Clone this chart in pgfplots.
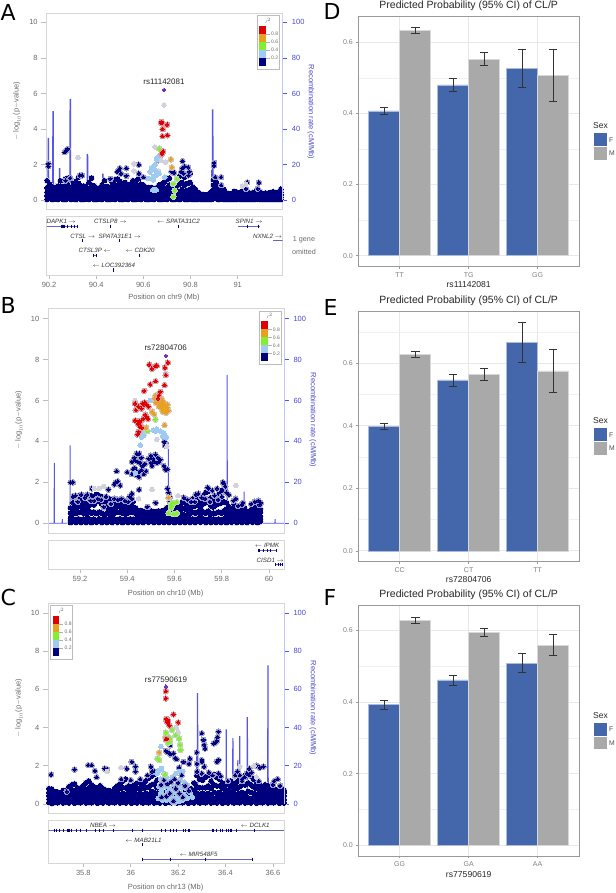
\documentclass[border=0pt]{standalone}
\usepackage{fontspec}
\usepackage{pgfplots}
\usepackage{pgfplotstable}
\pgfplotsset{compat=1.18}
\setmainfont{Liberation Sans}
\newfontfamily\letterfont{DejaVu Sans}

\definecolor{lznavy}{HTML}{00007F}
\definecolor{lzblue}{HTML}{9FCBF0}
\definecolor{lzgreen}{HTML}{80F030}
\definecolor{lzorange}{HTML}{E8A020}
\definecolor{lzred}{HTML}{E00000}
\definecolor{lzpurple}{HTML}{7030C0}
\definecolor{lzhalo}{HTML}{D2D2DC}
\definecolor{lzbox}{HTML}{D6D6D6}
\definecolor{lztxt}{HTML}{6A6A6A}
\definecolor{recomb}{HTML}{5555EE}
\definecolor{barF}{HTML}{4467AC}
\definecolor{barM}{HTML}{A9A9A9}

% position, then -log10 p of the stacked points of the dense band
\pgfplotstableread[row sep=\\]{x a b c d e\\
90.192 .05 .25 .45 .7 1.1\\ 90.203 .1 .3 .5 .65 .9\\ 90.214 .04 .2 .4 .55 .7\\ 90.226 .08 .28 .46 .6 .72\\
90.238 .05 .22 .42 .62 .8\\ 90.248 .1 .3 .5 .8 1.1\\ 90.259 .06 .2 .4 .55 .7\\ 90.270 .04 .25 .5 .8 1.2\\
90.281 .1 .3 .55 .85 1.25\\ 90.292 .05 .2 .4 .55 .7\\ 90.303 .08 .28 .48 .7 .95\\ 90.314 .04 .22 .45 .7 1.05\\
90.325 .1 .3 .55 .95 1.3\\ 90.336 .06 .25 .5 .8 1.4\\ 90.347 .04 .2 .4 .6 .8\\ 90.358 .08 .28 .45 .6 .75\\
90.369 .05 .22 .42 .62 1\\ 90.380 .1 .3 .55 .85 1.25\\ 90.391 .06 .24 .44 .62 .8\\ 90.402 .04 .2 .38 .52 .68\\
90.413 .08 .26 .44 .6 .7\\ 90.424 .05 .22 .42 .62 .85\\ 90.435 .1 .3 .5 .75 1.1\\ 90.446 .06 .24 .42 .6 .78\\
90.457 .04 .2 .4 .55 .7\\ 90.468 .08 .28 .5 .75 1\\ 90.479 .05 .25 .48 .8 1.15\\ 90.490 .1 .3 .55 .85 1.2\\
90.501 .06 .24 .46 .7 1.05\\ 90.512 .04 .2 .4 .58 .8\\ 90.523 .08 .28 .5 .7 1\\ 90.534 .05 .22 .42 .6 .78\\
90.545 .1 .3 .5 .68 .9\\ 90.556 .06 .24 .44 .7 1.1\\ 90.567 .04 .2 .4 .65 .95\\ 90.578 .08 .28 .5 .8 1.2\\
90.589 .05 .22 .42 .6 .9\\ 90.600 .1 .3 .5 .68 .85\\ 90.611 .06 .24 .44 .6 .72\\ 90.622 .04 .2 .38 .55 .7\\
90.633 .08 .26 .44 .6 .72\\ 90.644 .05 .2 .4 .55 .65\\ 90.655 .1 .28 .42 .55 .7\\ 90.666 .06 .22 .4 .6 .85\\
90.677 .04 .2 .4 .62 .9\\ 90.688 .08 .28 .46 .7 1\\ 90.699 .05 .22 .42 .7 1.15\\ 90.710 .1 .3 .55 .85 1.25\\
90.721 .06 .24 .44 .6 .8\\ 90.732 .04 .2 .4 .5 .65\\ 90.743 .08 .26 .5 .8 1.2\\ 90.754 .05 .25 .5 .9 1.35\\
90.765 .1 .3 .6 1 1.45\\ 90.776 .06 .24 .5 .85 1.3\\ 90.787 .04 .25 .55 .95 1.4\\ 90.798 .08 .3 .6 1 1.5\\
90.809 .05 .22 .42 .6 .75\\ 90.820 .06 .2 .36 .5 .62\\ 90.831 .04 .16 .28 .38 .45\\ 90.842 .06 .14 .22 .3 .36\\
90.853 .04 .12 .2 .27 .32\\ 90.864 .05 .13 .2 .26 .3\\ 90.875 .04 .12 .2 .28 .34\\ 90.886 .06 .16 .26 .36 .45\\
90.897 .08 .3 .55 .85 1.15\\ 90.908 .1 .35 .6 .85 1.05\\ 90.919 .05 .2 .42 .62 .8\\ 90.930 .08 .25 .45 .65 .85\\
90.941 .05 .18 .32 .46 .6\\ 90.952 .04 .14 .24 .34 .42\\ 90.963 .06 .14 .22 .3 .36\\ 90.974 .04 .13 .22 .3 .38\\
90.985 .05 .16 .28 .38 .5\\ 90.996 .04 .14 .25 .35 .45\\ 91.007 .06 .16 .26 .34 .42\\ 91.018 .04 .14 .24 .36 .5\\
91.029 .05 .16 .28 .4 .55\\ 91.040 .06 .2 .32 .42 .5\\ 91.051 .04 .14 .24 .32 .4\\ 91.062 .05 .15 .25 .35 .42\\
91.073 .04 .14 .24 .34 .45\\ 91.084 .06 .18 .3 .42 .52\\ 91.095 .05 .16 .26 .36 .48\\ 91.106 .04 .14 .22 .3 .38\\
91.117 .05 .14 .23 .32 .4\\ 91.128 .04 .13 .22 .3 .36\\ 91.139 .05 .14 .24 .34 .44\\ 91.150 .04 .15 .26 .36 .48\\
91.161 .05 .14 .24 .32 .4\\ 91.172 .04 .15 .26 .36 .46\\ 91.183 .06 .18 .3 .45 .62\\
}\massA
\pgfplotstableread[row sep=\\]{x y\\
90.197 2.05\\ 90.197 1.9\\ 90.266 2.7\\ 90.272 2.78\\ 90.278 2.88\\ 90.274 2.82\\ 90.528 1.8\\ 90.528 1.37\\ 90.581 2\\ 90.581 1.5\\
90.5 1.8\\ 90.495 1.7\\ 90.49 1.6\\ 90.505 1.5\\ 90.6 1.3\\ 90.665 2.25\\ 90.67 2.4\\ 90.72 1.6\\ 90.73 1.55\\ 90.766 2.2\\ 90.765 1.8\\
90.76 1.6\\ 90.775 1.9\\ 90.79 1.85\\ 90.795 1.6\\ 90.792 1.4\\ 90.77 1.5\\ 90.9 2.1\\ 90.9 1.95\\ 90.905 1.3\\ 90.93 1.3\\ 90.93 .85\\
91.04 1\\ 91.035 .65\\ 91.09 1\\ 91.085 .65\\ 90.46 1.2\\ 90.33 1.4\\ 90.34 1.4\\ 90.27 1.1\\ 90.29 1.25\\
}\navyA
\pgfplotstableread[row sep=\\]{x y\\
90.323 2.4\\ 90.688 5.35\\ 90.649 3\\ 90.56 2.05\\ 90.56 1.65\\ 90.665 1.65\\ 90.675 2.25\\ 90.694 2.15\\ 91.02 .8\\ 91.035 .9\\
}\grayA
\pgfplotstableread[row sep=\\]{x y\\
90.656 2.3\\ 90.663 2.45\\ 90.643 1.8\\ 90.65 1.7\\ 90.628 1.6\\ 90.667 1.5\\ 90.643 1.33\\ 90.621 1.23\\ 90.642 1.14\\ 90.656 1.42\\ 90.635 1.8\\ 90.65 2\\
90.64 .58\\ 90.645 .6\\ 90.65 .55\\ 90.655 .58\\ 90.691 1.3\\ 90.636 1.2\\
}\blueA
\pgfplotstableread[row sep=\\]{x y\\
90.667 2.9\\ 90.727 .92\\ 90.742 1.2\\ 90.733 .55\\ 90.727 .2\\
}\greenA
\pgfplotstableread[row sep=\\]{x y\\
90.684 4\\ 90.717 2.3\\ 90.721 1.85\\
}\orangeA
\pgfplotstableread[row sep=\\]{x y\\
90.677 4.4\\ 90.675 4.36\\ 90.679 4.33\\ 90.701 4.25\\ 90.681 3.6\\ 90.702 3.65\\ 90.684 2.75\\ 90.681 2.7\\ 90.678 2.6\\ 90.681 4\\
}\redA

\pgfplotstableread[row sep=\\]{x a b c d e\\
59.160 .04 .14 .25 .5 .75\\ 59.171 .08 .2 .5 .75 1\\ 59.182 .05 .16 .48 .7 .9\\ 59.193 .1 .22 .52 .9 1.35\\
59.204 .04 .15 .55 .8 1.2\\ 59.215 .08 .2 .5 .75 1\\ 59.226 .05 .15 .45 .7 .95\\ 59.237 .1 .22 .6 .85 1.2\\
59.248 .04 .16 .5 1 1.35\\ 59.259 .08 .2 .55 .9 1.3\\ 59.270 .05 .14 .48 1.05 1.4\\ 59.281 .1 .22 .55 1.1 1.35\\
59.292 .04 .15 .5 .95 1.3\\ 59.303 .08 .2 .4 1 1.25\\ 59.314 .05 .16 .5 .8 1.1\\ 59.325 .1 .22 .45 .7 1.2\\
59.336 .04 .14 .3 .55 .8\\ 59.347 .08 .2 .5 .75 .95\\ 59.358 .05 .16 .55 .8 1\\ 59.369 .1 .22 .55 .85 1.05\\
59.380 .04 .15 .5 .7 .9\\ 59.391 .08 .2 .45 .7 .95\\ 59.402 .05 .16 .5 .75 .9\\ 59.413 .1 .22 .55 .7 .85\\
59.424 .04 .15 .55 .8 1.05\\ 59.435 .08 .2 .5 .65 .75\\ 59.446 .05 .16 .3 .5 .62\\ 59.457 .1 .22 .38 .55 .62\\
59.468 .04 .15 .3 .48 .58\\ 59.479 .08 .2 .34 .5 .6\\ 59.490 .05 .14 .28 .45 .55\\ 59.501 .1 .2 .35 .5 .6\\
59.512 .04 .15 .3 .45 .55\\ 59.523 .08 .2 .34 .48 .58\\ 59.534 .05 .16 .3 .48 .6\\ 59.545 .1 .22 .36 .5 .6\\
59.556 .04 .15 .32 .5 .62\\ 59.567 .08 .2 .4 .6 .75\\ 59.578 .05 .16 .36 .55 .8\\ 59.589 .1 .22 .45 .6 .7\\
59.600 .04 .15 .32 .6 .85\\ 59.611 .08 .2 .4 .6 .8\\ 59.622 .05 .15 .35 .6 .9\\ 59.633 .1 .22 .45 .75 1.05\\
59.644 .04 .15 .4 .7 1\\ 59.655 .08 .2 .42 .65 .9\\ 59.666 .05 .16 .45 .7 .95\\ 59.677 .1 .22 .55 .85 1.2\\
59.688 .04 .15 .5 .85 1.3\\ 59.699 .08 .22 .55 .9 1.25\\ 59.710 .05 .15 .45 .75 1.05\\ 59.721 .1 .22 .55 .95 1.35\\
59.732 .04 .16 .5 1 1.5\\ 59.743 .08 .2 .6 1.05 1.55\\ 59.754 .05 .15 .45 .85 1.25\\ 59.765 .1 .22 .5 .8 1.1\\
59.776 .04 .15 .5 .9 1.3\\ 59.787 .08 .2 .55 .95 1.4\\ 59.798 .05 .16 .5 1 1.6\\ 59.809 .1 .22 .6 1.05 1.7\\
59.820 .04 .15 .45 .7 1\\ 59.831 .08 .2 .4 .6 .8\\ 59.842 .05 .16 .35 .55 .7\\ 59.853 .1 .22 .4 .65 .9\\
59.864 .04 .15 .35 .6 .8\\ 59.875 .08 .18 .3 .45 .55\\ 59.886 .05 .15 .3 .5 .7\\ 59.897 .08 .2 .4 .6 .75\\
59.908 .04 .14 .28 .42 .55\\ 59.919 .08 .2 .35 .5 .6\\ 59.930 .05 .15 .4 .6 .75\\ 59.941 .1 .22 .45 .65 .85\\
59.952 .04 .16 .4 .65 .9\\ 59.963 .08 .2 .35 .55 .7\\
}\massB
\pgfplotstableread[row sep=\\]{x y\\
59.557 3.98\\ 59.56 3.8\\ 59.43 3.2\\ 59.44 3.4\\ 59.45 3.4\\ 59.46 3.2\\ 59.42 3\\ 59.435 3.05\\ 59.445 3\\ 59.455 2.95\\ 59.465 2.8\\ 59.43 2.7\\ 59.44 2.55\\ 59.45 2.5\\
59.46 2.6\\ 59.47 2.4\\ 59.48 2.55\\ 59.475 2.9\\ 59.49 3.15\\ 59.5 3.3\\ 59.51 3.15\\ 59.52 3.35\\ 59.53 3.2\\ 59.515 3\\ 59.525 2.95\\ 59.535 3\\ 59.54 3.1\\ 59.505 2.8\\
59.5 2.95\\ 59.555 2.8\\ 59.56 2.65\\ 59.565 2.6\\ 59.57 2.65\\ 59.45 2.25\\ 59.44 2.35\\ 59.425 2.65\\ 59.42 2.4\\ 59.4 2.5\\ 59.355 2.55\\ 59.36 2.05\\ 59.35 2\\ 59.345 1.9\\
59.37 1.85\\ 59.16 2\\ 59.17 2\\ 59.25 1.7\\ 59.32 1.65\\ 59.42 1.45\\ 59.41 1.3\\ 59.45 1.65\\ 59.485 .8\\ 59.52 1\\ 59.57 1.7\\ 59.575 1.5\\ 59.58 1.3\\ 59.58 1.05\\
59.69 1.4\\ 59.74 1.75\\ 59.745 1.7\\ 59.76 1.6\\ 59.78 1.7\\ 59.805 2\\ 59.81 1.95\\ 59.815 1.8\\ 59.82 1.5\\ 59.83 1.4\\ 59.86 1.2\\ 59.89 1\\ 59.955 1.1\\ 59.965 1\\
59.17 1.3\\ 59.18 1.35\\ 59.19 1.05\\ 59.205 1.4\\ 59.22 1.25\\ 59.23 1.4\\ 59.245 1.1\\ 59.26 1.1\\ 59.275 1.2\\ 59.29 1.15\\ 59.3 .8\\ 59.31 1.3\\ 59.33 .95\\ 59.345 1.2\\ 59.36 1.15\\
59.375 1.2\\ 59.39 1.1\\ 59.405 1.05\\ 59.42 1.2\\ 59.64 1.25\\ 59.655 1.15\\ 59.67 1.05\\ 59.685 1.05\\ 59.7 1.45\\ 59.715 1.25\\ 59.73 1.2\\ 59.75 1.05\\ 59.77 1.35\\ 59.785 1.15\\
59.8 1.3\\ 59.85 1.1\\ 59.87 .85\\ 59.885 .9\\ 59.925 .95\\ 59.94 1.05\\ 59.96 .9\\
}\navyB
\pgfplotstableread[row sep=\\]{x y\\
59.433 6\\ 59.525 4.1\\ 59.565 4.18\\ 59.567 3.75\\ 59.505 1.65\\ 59.86 1.85\\ 59.3 1.8\\ 59.26 1.7\\ 59.448 1.2\\ 59.563 7.35\\ 59.28 1.7\\ 59.615 1.35\\
}\grayB
\pgfplotstableread[row sep=\\]{x y\\
59.45 4.5\\ 59.455 4.35\\ 59.46 4.2\\ 59.465 4.4\\ 59.47 4.3\\ 59.455 3.82\\ 59.51 4.55\\ 59.525 4.6\\ 59.54 4.5\\ 59.555 4.4\\ 59.55 4.25\\ 59.565 4.2\\ 59.52 4.5\\ 59.497 6\\ 59.435 2.45\\
}\blueB
\pgfplotstableread[row sep=\\]{x y\\
59.519 5.07\\ 59.485 4.5\\ 59.585 .9\\ 59.59 1\\ 59.585 .75\\ 59.6 1\\ 59.61 1.03\\ 59.595 .45\\ 59.605 .45\\ 59.61 .5\\ 59.575 .5\\ 59.59 .85\\
}\greenB
\pgfplotstableread[row sep=\\]{x y\\
59.52 6.25\\ 59.53 6.3\\ 59.515 6.1\\ 59.525 6.05\\ 59.535 6.15\\ 59.545 6.1\\ 59.52 5.9\\ 59.53 5.85\\ 59.54 5.95\\ 59.55 6\\ 59.555 5.9\\ 59.56 5.75\\ 59.535 5.7\\ 59.545 5.8\\
59.55 5.65\\ 59.56 5.55\\ 59.57 5.65\\ 59.575 5.5\\ 59.565 5.4\\ 59.55 5.45\\ 59.57 5.8\\ 59.545 5.6\\ 59.527 5.98\\ 59.505 5.45\\ 59.514 5.33\\ 59.558 4.8\\ 59.47 4.67\\ 59.48 4.67\\ 59.575 1.25\\
}\orangeB
\pgfplotstableread[row sep=\\]{x y\\
59.572 7.85\\ 59.493 7.75\\ 59.504 7.55\\ 59.518 7.67\\ 59.525 7.7\\ 59.559 7.6\\ 59.563 7.24\\ 59.52 6.94\\ 59.497 6.78\\ 59.558 6.75\\ 59.472 6.47\\ 59.54 6.42\\ 59.535 6.26\\ 59.53 6.1\\
59.433 5.85\\ 59.447 5.7\\ 59.436 5.53\\ 59.465 5.85\\ 59.475 5.9\\ 59.482 5.8\\ 59.47 5.8\\ 59.46 5.6\\ 59.49 5.7\\ 59.433 5.02\\ 59.451 5\\ 59.468 5.1\\ 59.482 5.2\\ 59.476 5.3\\ 59.487 5.1\\
59.455 4.95\\ 59.461 4.67\\ 59.455 4.72\\ 59.448 4.47\\ 59.443 4.34\\ 59.445 4.85\\
}\redB

\pgfplotstableread[row sep=\\]{x a b c d e\\
35.655 .08 .25 .45 .6 .8\\ 35.667 .04 .2 .4 .62 .78\\ 35.679 .1 .3 .48 .55 .65\\ 35.691 .06 .22 .38 .5 .62\\
35.703 .12 .3 .42 .5 .58\\ 35.715 .05 .2 .35 .52 .7\\ 35.727 .1 .28 .46 .58 .72\\ 35.739 .06 .22 .4 .62 .9\\
35.751 .12 .3 .5 .7 1\\ 35.763 .05 .2 .45 .7 1.05\\ 35.775 .1 .28 .46 .66 .85\\ 35.787 .06 .22 .42 .62 .8\\
35.799 .12 .3 .5 .72 .95\\ 35.811 .05 .25 .48 .75 1.1\\ 35.823 .1 .3 .55 .85 1.2\\ 35.835 .06 .24 .45 .7 1\\
35.847 .12 .3 .5 .7 .88\\ 35.859 .05 .22 .42 .65 .82\\ 35.871 .1 .28 .5 .75 .95\\ 35.883 .06 .24 .46 .66 .8\\
35.895 .12 .3 .48 .62 .72\\ 35.907 .05 .2 .4 .58 .7\\ 35.919 .1 .28 .42 .55 .65\\ 35.931 .06 .22 .42 .6 .8\\
35.943 .12 .3 .5 .7 .95\\ 35.955 .05 .25 .5 .8 1.05\\ 35.967 .1 .3 .55 .85 1.2\\ 35.979 .06 .25 .5 .85 1.3\\
35.991 .12 .3 .5 .7 .95\\ 36.003 .05 .22 .42 .66 .9\\ 36.015 .1 .28 .5 .75 1\\ 36.027 .06 .24 .48 .8 1.1\\
36.039 .12 .3 .55 .85 1.15\\ 36.051 .05 .25 .5 .8 1.05\\ 36.063 .1 .3 .55 .85 1.2\\ 36.075 .06 .25 .5 .9 1.35\\
36.087 .12 .35 .65 1 1.45\\ 36.099 .05 .3 .6 1.05 1.55\\ 36.111 .1 .3 .55 .85 1.25\\ 36.123 .06 .2 .3 .4 .45\\
36.135 .12 .2 .3 .42 .6\\ 36.147 .05 .14 .2 .32 .5\\ 36.159 .1 .2 .3 .4 .7\\ 36.171 .06 .14 .24 .34 .5\\
36.183 .12 .2 .3 .45 .8\\ 36.195 .05 .16 .28 .4 .6\\ 36.207 .1 .22 .32 .42 .55\\ 36.219 .06 .14 .24 .36 .9\\
36.231 .12 .2 .34 .5 .7\\ 36.243 .05 .14 .24 .4 .6\\ 36.255 .1 .22 .35 .55 .8\\ 36.267 .06 .25 .45 .7 1.1\\
36.279 .12 .3 .55 .9 1.5\\ 36.291 .05 .25 .5 .85 1.3\\ 36.303 .1 .3 .55 .85 1.25\\ 36.315 .06 .24 .5 .85 1.4\\
36.327 .12 .3 .55 .95 1.5\\ 36.339 .05 .25 .5 .8 1.2\\ 36.351 .1 .3 .6 1 1.55\\ 36.363 .06 .28 .55 .95 1.4\\
36.375 .12 .32 .6 .95 1.3\\ 36.387 .05 .25 .5 .8 1.1\\ 36.399 .1 .3 .55 .8 1\\ 36.411 .06 .24 .45 .7 1.05\\
36.423 .12 .3 .5 .85 1.2\\ 36.435 .05 .22 .45 .7 1\\ 36.447 .1 .28 .5 .8 1.15\\ 36.459 .06 .25 .55 .9 1.3\\
36.471 .12 .3 .6 1 1.4\\ 36.483 .05 .28 .55 1 1.5\\ 36.495 .1 .32 .65 1.1 1.55\\ 36.507 .06 .28 .6 1 1.45\\
36.519 .12 .3 .55 .9 1.3\\ 36.531 .05 .25 .5 .8 1.1\\ 36.543 .1 .3 .5 .75 1\\ 36.555 .06 .22 .42 .66 .9\\
36.567 .12 .3 .5 .75 1\\ 36.579 .05 .24 .45 .7 .95\\ 36.591 .1 .28 .48 .66 .85\\ 36.603 .06 .22 .42 .6 .78\\
36.615 .12 .3 .48 .62 .72\\ 36.627 .05 .2 .4 .58 .78\\ 36.639 .1 .28 .46 .62 .8\\ 36.647 .06 .22 .42 .58 .72\\
}\massC
\pgfplotstableread[row sep=\\]{x y\\
36.166 3.07\\ 36.148 2.78\\ 36.155 2.72\\ 36.166 2.6\\ 36.18 2.65\\ 36.187 2.4\\ 36.194 2.35\\ 36.204 1.9\\ 36.223 2.2\\ 36.25 2.38\\ 36.246 2.1\\ 36.279 2.1\\ 36.279 2.7\\
36.3 3.7\\ 36.307 3.35\\ 36.31 3.1\\ 36.314 2.9\\ 36.3 2.2\\ 36.31 1.95\\ 36.3 2.3\\ 36.37 3.78\\ 36.366 3.5\\ 36.363 3.3\\ 36.356 3.2\\ 36.35 3.17\\ 36.37 2.3\\ 36.363 2.2\\ 36.37 1.6\\
35.664 1.54\\ 35.763 1.8\\ 35.82 2.03\\ 35.835 2.03\\ 35.849 1.73\\ 35.856 1.4\\ 35.89 1.85\\ 35.9 1.82\\ 35.983 1.85\\ 36.02 1.95\\ 36.004 2.2\\ 36.02 1.7\\ 36.085 1.95\\ 36.1 1.7\\ 35.73 .65\\
36.53 2\\ 36.545 1.9\\ 36.56 1.95\\ 36.5 1.85\\ 36.49 1.6\\ 36.5 1.5\\ 36.48 1.4\\ 36.47 1.3\\ 36.47 1.2\\ 36.62 1.3\\ 36.605 1.2\\ 36.45 1.7\\ 36.44 1.5\\
35.96 1.3\\ 36 1.25\\ 36.04 1.3\\ 36.07 1.5\\ 36.09 1.7\\ 36.28 1.7\\ 36.3 1.6\\ 36.33 1.65\\ 36.345 1.5\\ 36.38 1.45\\ 36.41 1.2\\ 36.46 1.5\\ 36.51 1.65\\ 36.54 1.2\\ 36.6 1\\ 36.63 .95\\
}\navyC
\pgfplotstableread[row sep=\\]{x y\\
36.192 4\\ 36.2 3.75\\ 35.958 1.9\\ 35.9 1.7\\ 36.46 1.95\\ 36.52 2\\ 36.53 1.4\\ 36.148 6\\
}\grayC
\pgfplotstableread[row sep=\\]{x y\\
36.127 3\\ 36.112 1.6\\ 36.12 1.75\\ 36.13 1.85\\ 36.14 1.6\\ 36.125 1.3\\ 36.135 1.1\\ 36.15 1.4\\ 36.12 .9\\ 36.13 .7\\ 36.145 .9\\ 36.16 1.15\\ 36.165 .8\\ 36.175 1.4\\ 36.18 1\\
36.19 1.6\\ 36.195 1.2\\ 36.205 1.7\\ 36.21 1.3\\ 36.22 1.7\\ 36.225 1.15\\ 36.215 .85\\ 36.2 .9\\ 36.185 .6\\ 36.17 .5\\ 36.155 .6\\ 36.14 .45\\ 36.125 .5\\ 36.115 .3\\ 36.135 .2\\
36.15 .2\\ 36.165 .25\\ 36.18 .3\\ 36.195 .35\\ 36.21 .4\\ 36.225 .5\\ 36.235 .8\\ 36.24 1\\ 36.25 .6\\ 36.26 .35\\ 36.205 .15\\ 36.22 .2\\ 36.175 .1\\ 36.19 .1\\ 36.24 .3\\
}\blueC
% navy points that lie over the light blue cluster
\pgfplotstableread[row sep=\\]{x y\\
36.128 1\\ 36.14 1.25\\ 36.155 1.05\\ 36.17 1.15\\ 36.165 .55\\ 36.185 1.3\\ 36.2 1.1\\ 36.215 1.5\\ 36.23 .95\\ 36.19 .8\\ 36.205 .55\\ 36.245 .7\\ 36.15 .4\\ 36.13 .35\\ 36.22 .35\\ 36.18 .15\\
}\navyCtop
\pgfplotstableread[row sep=\\]{x y\\
36.175 3.88\\ 36.148 3.74\\ 36.16 3.5\\ 36.166 3.4\\ 36.155 3.3\\ 36.19 3.6\\ 36.204 3.43\\ 36.208 3.1\\ 36.21 2.83\\ 36.166 3.25\\ 36.145 3.5\\ 36.156 3.2\\ 36.12 2.64\\ 36.112 2.38\\ 36.145 1.54\\ 36.12 2.3\\
}\greenC
\pgfplotstableread[row sep=\\]{x y\\
36.12 2.7\\
}\orangeC
\pgfplotstableread[row sep=\\]{x y\\
36.148 5.9\\ 36.148 5.52\\ 36.18 4.69\\ 36.2 4.27\\ 36.149 4.45\\ 36.155 4.4\\ 36.158 4.3\\ 36.152 4.3\\ 36.156 4.25\\ 36.163 4.1\\ 36.152 3.4\\ 36.148 3.39\\
}\redC

% marks are filled and stroked, so the stroke takes the fill colour
\newcommand{\halo}[2]{\addplot[only marks,mark=*,mark size=2.9pt,mark options={draw=lzhalo,fill=lzhalo,line width=0pt}] table[y=#2] {#1};}
\newcommand{\core}[2]{\addplot[only marks,mark=*,mark size=2.3pt,mark options={draw=lznavy,fill=lznavy,line width=0pt}] table[y=#2] {#1};}
\newcommand{\mass}[1]{\halo{#1}{a}\halo{#1}{b}\halo{#1}{c}\halo{#1}{d}\halo{#1}{e}%
  \core{#1}{a}\core{#1}{b}\core{#1}{c}\core{#1}{d}\core{#1}{e}}
\newcommand{\pts}[2]{%
  \addplot[only marks,mark=*,mark size=2.8pt,mark options={draw=#1!25!lzhalo,fill=#1!25!lzhalo,line width=0pt}] table {#2};
  \addplot[only marks,mark=*,mark size=1.7pt,mark options={draw=#1,fill=#1,line width=0pt}] table {#2};}
\newcommand{\bluepts}[1]{%
  \addplot[only marks,mark=*,mark size=2.3pt,mark options={draw=lzblue,fill=lzblue,line width=0pt}] table {#1};}
\newcommand{\graypts}[1]{\addplot[only marks,mark=*,mark size=2.3pt,mark options={draw=lzhalo,fill=lzhalo,line width=0pt}] table {#1};}

\pgfplotsset{
  lz/.style={scale only axis,width=236pt,clip=true,
    /pgf/number format/assume math mode=true,
    tick label style={font=\fontsize{7.5}{9}\selectfont,text=lztxt},
    tick align=outside},
  lzright/.style={lz,axis x line=none,axis y line*=right,axis line style={draw=none},
    ymin=-4.9,ymax=105,ytick={0,20,40,60,80,100},
    yticklabels={0,20,40,60,80,100},
    major tick length=4.7pt,
    ytick style={recomb,line width=.6pt},
    tick label style={font=\fontsize{7.5}{9}\selectfont,text=recomb!85!black},
    yticklabel style={xshift=1pt}},
  lzmain/.style={lz,axis line style={lzbox,line width=.9pt},
    ymin=-.49,ymax=10.5,ytick={0,2,4,6,8,10},yticklabels={0,2,4,6,8,10},
    xtick=\empty,ytick pos=left,major tick length=5.5pt,
    ytick style={lzbox!70!gray,line width=.6pt}},
  lzgene/.style={lz,axis line style={lzbox,line width=.9pt},y dir=reverse,ytick=\empty,
    xtick pos=bottom,major tick length=3.5pt,
    xtick style={lzbox!70!gray,line width=.6pt}},
  genel/.style={no marks,color=lznavy!60,line width=.5pt},
  exon/.style={only marks,mark=|,mark size=1.6pt,lznavy,mark options={line width=.9pt}},
  gg/.style={scale only axis,width=220.7pt,xmin=.4,xmax=3.6,xtick={1,2,3},
    /pgf/number format/assume math mode=true,
    axis line style={gray!80,line width=.7pt},
    tick label style={font=\fontsize{7}{8}\selectfont,text=gray},
    major tick length=2pt,tick align=outside,tick style={gray!80,line width=.5pt},
    xtick pos=bottom,ytick pos=left,
    ymajorgrids,yminorgrids,xmajorgrids,
    major grid style={black!9,line width=.8pt},minor grid style={black!6,line width=.45pt},
    minor tick length=0pt},
  barF/.style={ybar,bar width=31pt,bar shift=0pt,fill=barF,draw=barF!45!white,line width=.5pt,
    error bars/.cd,y dir=both,y explicit,
    error bar style={black!80,line width=.65pt,solid},
    error mark options={black!80,rotate=90,mark size=4.3pt,line width=.65pt}},
  barM/.style={ybar,bar width=31pt,bar shift=0pt,fill=barM,draw=barM!45!white,line width=.5pt,
    error bars/.cd,y dir=both,y explicit,
    error bar style={black!80,line width=.65pt,solid},
    error mark options={black!80,rotate=90,mark size=4.3pt,line width=.65pt}},
}

\newcommand{\rsqleg}[2]{% left and top of the r2 key
  \draw[lzbox!70!gray,fill=white,line width=.7pt] (#1,-#2) rectangle ++(22,-53.4);
  \node[font=\fontsize{4.5}{5}\selectfont\itshape,text=lztxt] at (#1+11,-#2-5.2) {r$^{2}$};
  \foreach \c [count=\i from 0] in {lzred,lzorange,lzgreen,lzblue,lznavy}
    \fill[\c] (#1+2,-#2-10.3-8*\i) rectangle ++(6.7,-8);
  \foreach \l [count=\i from 1] in {0.8,0.6,0.4,0.2}{
    \draw[gray!60,line width=.3pt] (#1+8.7,-#2-10.3-8*\i) -- ++(4,0);
    \node[font=\fontsize{5}{6}\selectfont,text=lztxt] at (#1+17.4,-#2-10.3-8*\i) {\l};}
}
\newcommand{\sexleg}[1]{%
  \node[anchor=west,font=\fontsize{8.5}{10}\selectfont,text=black!85,inner sep=0pt] at (593,-#1+7.5) {Sex};
  \fill[barF] (593.7,-#1) rectangle ++(13,-12.8);
  \fill[barM] (593.7,-#1-13.8) rectangle ++(13,-12.8);
  \node[anchor=west,font=\fontsize{6.8}{8}\selectfont,text=black!70,inner sep=0pt] at (609,-#1-6.4) {F};
  \node[anchor=west,font=\fontsize{6.8}{8}\selectfont,text=black!70,inner sep=0pt] at (609,-#1-20.2) {M};
}
\newcommand{\gl}[1]{\fontsize{6.2}{7}\selectfont\itshape #1}

\begin{document}
\begin{tikzpicture}[x=1pt,y=1pt]
\path[use as bounding box] (0,0) rectangle (615,-893);

% ---- A
\begin{axis}[lzright,at={(46.7pt,-13.3pt)},anchor=north west,height=195.7pt,xmin=90.19,xmax=91.191]
\addplot[recomb,line width=1.5pt,no marks] coordinates {(90.19,0)(90.196,0)(90.197,35)(90.198,0)(90.216,0)(90.217,50)(90.218,0)(90.244,0)(90.245,18)(90.246,0)(90.289,0)(90.29,57)(90.291,0)(90.362,0)(90.363,26)(90.364,0)(90.427,0)(90.428,15)(90.429,0)(90.888,0)(90.891,17)(90.893,0)(90.894,51)(90.895,0)(91.077,0)(91.078,7)(91.079,0)(91.191,0)};
\end{axis}
\begin{axis}[lzmain,at={(46.7pt,-13.3pt)},anchor=north west,height=195.7pt,xmin=90.19,xmax=91.191]
\mass{\massA}
\pts{lznavy}{\navyA}
\graypts{\grayA}
\bluepts{\blueA}
\pts{lzgreen}{\greenA}
\pts{lzorange}{\orangeA}
\pts{lzred}{\redA}
\addplot[only marks,mark=*,mark size=1.8pt,mark options={draw=lzpurple,fill=lzpurple,line width=0pt}] coordinates {(90.688,6.2)};
\end{axis}
\begin{axis}[lzgene,at={(46.7pt,-216pt)},anchor=north west,height=59pt,xmin=90.19,xmax=91.191,ymin=0,ymax=59,
  xtick={90.2,90.4,90.6,90.8,91},xticklabels={90.2,90.4,90.6,90.8,91}]
\addplot[genel] coordinates {(90.19,10.3)(90.323,10.3)};
\addplot[genel] coordinates {(91.001,10.3)(91.095,10.3)};
\addplot[genel] coordinates {(91.151,24.7)(91.191,24.7)};
\addplot[genel] coordinates {(90.387,39.3)(90.401,39.3)};
\addplot[exon] coordinates {(90.252,10.3)(90.258,10.3)(90.263,10.3)(90.267,10.3)(90.28,10.3)(90.295,10.3)(90.309,10.3)(90.319,10.3)(90.46,10.3)(90.748,10.3)(91.041,10.3)(91.087,10.3)(90.343,24.7)(90.5,24.7)(90.387,39.3)(90.401,39.3)(90.585,39.3)(90.472,54)};
\node[text=black!80,font=\gl{}] at (axis cs:90.252,5.7) {DAPK1 $\rightarrow$};
\node[text=black!80,font=\gl{}] at (axis cs:90.46,5.7) {CTSLP8 $\rightarrow$};
\node[text=black!80,font=\gl{}] at (axis cs:90.749,5.7) {$\leftarrow$ SPATA31C2};
\node[text=black!80,font=\gl{}] at (axis cs:91.049,5.7) {SPIN1 $\rightarrow$};
\node[text=black!80,font=\gl{}] at (axis cs:90.343,20) {CTSL $\rightarrow$};
\node[text=black!80,font=\gl{}] at (axis cs:90.5,20) {SPATA31E1 $\rightarrow$};
\node[text=black!80,font=\gl{}] at (axis cs:91.127,20) {NXNL2 $\rightarrow$};
\node[text=black!80,font=\gl{}] at (axis cs:90.394,34.7) {CTSL3P $\leftarrow$};
\node[text=black!80,font=\gl{}] at (axis cs:90.586,34.7) {$\leftarrow$ CDK20};
\node[text=black!80,font=\gl{}] at (axis cs:90.475,49.3) {$\leftarrow$ LOC392364};
\end{axis}
\rsqleg{257.3}{15.7}
\draw[recomb!35,line width=1pt] (282.7,-22.3) -- (282.7,-200.3);
\node[font=\fontsize{8}{9}\selectfont,text=black!85] at (164,-82) {rs11142081};
\node[font=\fontsize{7.5}{9}\selectfont,text=lztxt] at (164,-298) {Position on chr9 (Mb)};
\node[rotate=90,font=\fontsize{7.5}{9}\selectfont,text=lztxt] at (17,-111) {$-\log_{10}$(p$-$value)};
\node[rotate=-90,font=\fontsize{7.5}{9}\selectfont,text=recomb!85!black] at (310.7,-112) {Recombination rate (cM/Mb)};
\node[font=\fontsize{7.2}{9}\selectfont,text=lztxt] at (304,-240) {1 gene};
\node[font=\fontsize{7.2}{9}\selectfont,text=lztxt] at (304,-251.5) {omitted};

% ---- B
\begin{axis}[lzright,at={(48.3pt,-308.3pt)},anchor=north west,height=225pt,xmin=59.0656,xmax=60.065]
\addplot[recomb,line width=.9pt,no marks] coordinates {(59.0656,0)(59.09,0)(59.091,29.5)(59.092,0)(59.124,0)(59.125,2)(59.126,0)(59.154,0)(59.156,8)(59.157,0)(59.158,38)(59.159,0)(59.267,0)(59.268,5)(59.269,0)(59.424,0)(59.425,8.5)(59.426,0)(59.573,0)(59.574,39.5)(59.575,0)(59.822,0)(59.823,72.5)(59.824,0)(59.842,0)(59.843,11.5)(59.844,0)(59.894,0)(59.895,15.5)(59.896,0)(60.025,0)(60.026,2)(60.027,0)(60.065,0)};
\end{axis}
\begin{axis}[lzmain,at={(48.3pt,-308.3pt)},anchor=north west,height=225pt,xmin=59.0656,xmax=60.065]
\mass{\massB}
\pts{lznavy}{\navyB}
\graypts{\grayB}
\bluepts{\blueB}
\pts{lzgreen}{\greenB}
\pts{lzorange}{\orangeB}
\pts{lzred}{\redB}
\addplot[only marks,mark=*,mark size=1.8pt,mark options={draw=lzpurple,fill=lzpurple,line width=0pt}] coordinates {(59.564,8.18)};
\end{axis}
\begin{axis}[lzgene,at={(48.3pt,-540.7pt)},anchor=north west,height=28.3pt,xmin=59.0656,xmax=60.065,ymin=0,ymax=28.3,
  xtick={59.2,59.4,59.6,59.8,60},xticklabels={59.2,59.4,59.6,59.8,60}]
\addplot[genel] coordinates {(59.954,9.7)(60.03,9.7)};
\addplot[genel] coordinates {(60.027,24)(60.056,24)};
\addplot[exon] coordinates {(59.955,9.7)(59.958,9.7)(59.978,9.7)(59.992,9.7)(60.006,9.7)(60.03,9.7)(60.027,24)(60.042,24)(60.05,24)(60.056,24)};
\node[text=black!80,font=\gl{}] at (axis cs:59.992,5) {$\leftarrow$ IPMK};
\node[text=black!80,font=\gl{}] at (axis cs:60.006,19.3) {CISD1 $\rightarrow$};
\end{axis}
\rsqleg{259}{311}
\draw[recomb!35,line width=1pt] (284,-318.3) -- (284,-523.3);
\node[font=\fontsize{8}{9}\selectfont,text=black!85] at (165.7,-347.7) {rs72804706};
\node[font=\fontsize{7.5}{9}\selectfont,text=lztxt] at (165.7,-593.3) {Position on chr10 (Mb)};
\node[rotate=90,font=\fontsize{7.5}{9}\selectfont,text=lztxt] at (19,-420) {$-\log_{10}$(p$-$value)};
\node[rotate=-90,font=\fontsize{7.5}{9}\selectfont,text=recomb!85!black] at (312.7,-420) {Recombination rate (cM/Mb)};

% ---- C
\begin{axis}[lzright,at={(48.3pt,-603.3pt)},anchor=north west,height=210pt,xmin=35.652,xmax=36.648]
\addplot[recomb,line width=1.2pt,no marks] coordinates {(35.652,0)(36.278,0)(36.279,27)(36.28,0)(36.281,0)(36.282,58)(36.283,0)(36.402,0)(36.403,39)(36.404,0)(36.43,0)(36.431,34.5)(36.432,0)(36.451,0)(36.452,23)(36.453,0)(36.459,0)(36.46,35.5)(36.461,0)(36.491,0)(36.492,45.5)(36.493,0)(36.578,0)(36.579,72.5)(36.58,0)(36.648,0)};
\end{axis}
\begin{axis}[lzmain,at={(48.3pt,-603.3pt)},anchor=north west,height=210pt,xmin=35.652,xmax=36.648]
\mass{\massC}
\pts{lznavy}{\navyC}
\graypts{\grayC}
\bluepts{\blueC}
\pts{lznavy}{\navyCtop}
\pts{lzgreen}{\greenC}
\pts{lzorange}{\orangeC}
\pts{lzred}{\redC}
\addplot[only marks,mark=*,mark size=1.8pt,mark options={draw=lzpurple,fill=lzpurple,line width=0pt}] coordinates {(36.148,6.14)};
\end{axis}
\begin{axis}[lzgene,at={(48.3pt,-820.3pt)},anchor=north west,height=43.4pt,xmin=35.652,xmax=36.648,ymin=0,ymax=43.4,
  xtick={35.8,36,36.2,36.4,36.6},xticklabels={35.8,36,36.2,36.4,36.6}]
\addplot[genel] coordinates {(35.652,10)(36.648,10)};
\addplot[genel] coordinates {(36.049,39)(36.515,39)};
\addplot[exon] coordinates {(35.676,10)(35.687,10)(35.697,10)(35.715,10)(35.734,10)(35.738,10)(35.741,10)(35.751,10)(35.772,10)(35.786,10)(35.811,10)(35.849,10)(35.866,10)(35.885,10)(35.927,10)(36.008,10)(36.049,10)(36.128,10)(36.145,10)(36.166,10)(36.18,10)(36.194,10)(36.223,10)(36.231,10)(36.244,10)(36.248,10)(36.345,10)(36.349,10)(36.363,10)(36.38,10)(36.385,10)(36.403,10)(36.413,10)(36.42,10)(36.427,10)(36.445,10)(36.523,10)(36.051,24.3)(36.049,39)(36.169,39)(36.317,39)(36.515,39)};
\node[text=black!80,font=\gl{}] at (axis cs:35.883,5.3) {NBEA $\rightarrow$};
\node[text=black!80,font=\gl{}] at (axis cs:36.525,5.3) {$\leftarrow$ DCLK1};
\node[text=black!80,font=\gl{}] at (axis cs:36.054,19.7) {$\leftarrow$ MAB21L1};
\node[text=black!80,font=\gl{}] at (axis cs:36.286,34) {$\leftarrow$ MIR548F5};
\end{axis}
\rsqleg{50.7}{605.7}
\draw[recomb!35,line width=1pt] (284,-613) -- (284,-803.7);
\node[font=\fontsize{8}{9}\selectfont,text=black!85] at (166,-679.3) {rs77590619};
\node[font=\fontsize{7.5}{9}\selectfont,text=lztxt] at (165.7,-887.7) {Position on chr13 (Mb)};
\node[rotate=90,font=\fontsize{7.5}{9}\selectfont,text=lztxt] at (19,-708) {$-\log_{10}$(p$-$value)};
\node[rotate=-90,font=\fontsize{7.5}{9}\selectfont,text=recomb!85!black] at (312.7,-708) {Recombination rate (cM/Mb)};

% ---- D
\begin{axis}[gg,at={(358.3pt,-16pt)},anchor=north west,height=250.7pt,ymin=-.031,ymax=.674,
  ytick={0,.2,.4,.6},yticklabels={0.0,0.2,0.4,0.6},minor ytick={.1,.3,.5},xticklabels={TT,TG,GG}]
\addplot[barF] coordinates {(.775,.407) += (0,.009) -= (0,.010) (1.775,.48) += (0,.018) -= (0,.017) (2.775,.526) += (0,.054) -= (0,.053)};
\addplot[barM] coordinates {(1.225,.633) += (0,.009) -= (0,.008) (2.225,.552) += (0,.019) -= (0,.016) (3.225,.506) += (0,.075) -= (0,.073)};
\end{axis}
\node[font=\fontsize{10.5}{12}\selectfont,text=black!85] at (468.7,-5.5) {Predicted Probability (95\% CI) of CL/P};
\node[font=\fontsize{8.6}{10}\selectfont,text=black!85] at (468.7,-284.3) {rs11142081};
\sexleg{133.3}

% ---- E
\begin{axis}[gg,at={(358.3pt,-311pt)},anchor=north west,height=250.7pt,ymin=-.035,ymax=.7665,
  ytick={0,.2,.4,.6},yticklabels={0.0,0.2,0.4,0.6},minor ytick={.1,.3,.5,.7},xticklabels={CC,CT,TT}]
\addplot[barF] coordinates {(.775,.398) += (0,.009) -= (0,.010) (1.775,.546) += (0,.019) -= (0,.019) (2.775,.666) += (0,.064) -= (0,.064)};
\addplot[barM] coordinates {(1.225,.628) += (0,.008) -= (0,.009) (2.225,.564) += (0,.018) -= (0,.018) (3.225,.575) += (0,.068) -= (0,.068)};
\end{axis}
\node[font=\fontsize{10.5}{12}\selectfont,text=black!85] at (468.7,-300.3) {Predicted Probability (95\% CI) of CL/P};
\node[font=\fontsize{8.6}{10}\selectfont,text=black!85] at (468.7,-579.3) {rs72804706};
\sexleg{428.3}

% ---- F
\begin{axis}[gg,at={(358.3pt,-605.7pt)},anchor=north west,height=250.7pt,ymin=-.0307,ymax=.669,
  ytick={0,.2,.4,.6},yticklabels={0.0,0.2,0.4,0.6},minor ytick={.1,.3,.5},xticklabels={GG,GA,AA}]
\addplot[barF] coordinates {(.775,.3926) += (0,.011) -= (0,.012) (1.775,.462) += (0,.014) -= (0,.014) (2.775,.509) += (0,.028) -= (0,.027)};
\addplot[barM] coordinates {(1.225,.628) += (0,.009) -= (0,.009) (2.225,.595) += (0,.012) -= (0,.012) (3.225,.558) += (0,.030) -= (0,.028)};
\end{axis}
\node[font=\fontsize{10.5}{12}\selectfont,text=black!85] at (468.7,-594.7) {Predicted Probability (95\% CI) of CL/P};
\node[font=\fontsize{8.6}{10}\selectfont,text=black!85] at (468.7,-874.3) {rs77590619};
\sexleg{722.7}

% panel letters
\node[anchor=base west,font=\letterfont\fontsize{22}{24}\selectfont,inner sep=0pt] at (0.5,-21) {A};
\node[anchor=base west,font=\letterfont\fontsize{22}{24}\selectfont,inner sep=0pt] at (0.5,-313) {B};
\node[anchor=base west,font=\letterfont\fontsize{22}{24}\selectfont,inner sep=0pt] at (0.5,-605) {C};
\node[anchor=base west,font=\letterfont\fontsize{22}{24}\selectfont,inner sep=0pt] at (323.5,-20) {D};
\node[anchor=base west,font=\letterfont\fontsize{22}{24}\selectfont,inner sep=0pt] at (323.5,-315) {E};
\node[anchor=base west,font=\letterfont\fontsize{22}{24}\selectfont,inner sep=0pt] at (323.5,-605) {F};
\end{tikzpicture}
\end{document}
